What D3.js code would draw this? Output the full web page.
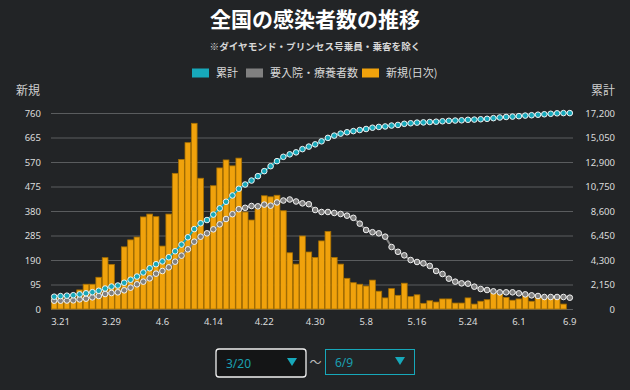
<!DOCTYPE html>
<html><head><meta charset="utf-8">
<script src="https://cdn.jsdelivr.net/npm/d3@7"></script>
<style>
html,body{margin:0;padding:0;background:#222426;}
svg{display:block;}
text{font-family:"Noto Sans","Noto Sans CJK JP",sans-serif;}
</style></head>
<body><svg id="c" width="630" height="390"></svg>
<script>
const dates = ["3.20","3.21","3.22","3.23","3.24","3.25","3.26","3.27","3.28","3.29","3.30","3.31",
"4.1","4.2","4.3","4.4","4.5","4.6","4.7","4.8","4.9","4.10","4.11","4.12","4.13","4.14","4.15","4.16","4.17","4.18","4.19","4.20","4.21","4.22","4.23","4.24","4.25","4.26","4.27","4.28","4.29","4.30",
"5.1","5.2","5.3","5.4","5.5","5.6","5.7","5.8","5.9","5.10","5.11","5.12","5.13","5.14","5.15","5.16","5.17","5.18","5.19","5.20","5.21","5.22","5.23","5.24","5.25","5.26","5.27","5.28","5.29","5.30","5.31",
"6.1","6.2","6.3","6.4","6.5","6.6","6.7","6.8","6.9"];
const newCases = [43,53,35,42,74,96,96,123,199,173,90,241,268,279,357,368,358,244,368,526,580,645,720,507,285,478,547,578,555,585,376,345,388,439,435,441,381,218,174,283,221,200,264,301,200,174,119,102,96,89,112,69,43,79,53,100,48,55,22,32,27,39,39,23,23,43,19,30,36,61,57,45,34,39,50,30,45,41,41,41,19,0];
const cumulative = [1080,1133,1168,1210,1284,1380,1476,1599,1798,1971,2061,2302,2570,2849,3206,3574,3932,4176,4544,5070,5650,6295,7015,7522,7807,8285,8832,9410,9965,10550,10926,11271,11659,12098,12533,12974,13355,13573,13747,14030,14251,14451,14715,15016,15216,15390,15509,15611,15707,15796,15908,15977,16020,16099,16152,16252,16300,16355,16377,16409,16436,16475,16514,16537,16560,16603,16622,16652,16688,16749,16806,16851,16885,16924,16974,17004,17049,17090,17131,17172,17191,17191];
const hospitalized = [731,731,745,760,849,907,1024,1141,1316,1404,1463,1638,1872,2165,2399,2691,3101,3335,3657,4154,4681,5237,5907,6347,6640,6991,7430,7898,8320,8760,8880,9040,9010,9160,9069,9350,9520,9610,9435,9273,9200,8688,8513,8513,8425,8337,8191,8000,7489,6933,6740,6640,6348,5440,5020,4710,4300,4125,4008,3780,3335,3072,2662,2399,2252,2223,1960,1755,1667,1550,1463,1463,1463,1375,1287,1199,1141,1053,1053,1053,1053,994];
const xTickLabels = ["3.21","3.29","4.6","4.14","4.22","4.30","5.8","5.16","5.24","6.1","6.9"];
const leftTicks = [0,95,190,285,380,475,570,665,760];
const rightTicks = [0,2150,4300,6450,8600,10750,12900,15050,17200];
const legendItems = ["累計","要入院・療養者数","新規(日次)"];
const title = "全国の感染者数の推移";
const subtitle = "※ダイヤモンド・プリンセス号乗員・乗客を除く";
const rangeStart = "3/20", rangeEnd = "6/9";

const C_CYAN = "#17a8ba", C_GREY = "#808080", C_ORANGE = "#f0a20c";
const svg = d3.select("#c");
const L = 51, R = 573, T = 113, B = 309;

const x = d3.scaleBand().domain(dates).range([L, R]).paddingInner(0.1).paddingOuter(0.05);
const yL = d3.scaleLinear().domain([0, 760]).range([B, T]);
const yR = d3.scaleLinear().domain([0, 17200]).range([B, T]);

// title
svg.append("text").attr("x", 315).attr("y", 27).attr("text-anchor", "middle")
  .attr("fill", "#fff").attr("font-size", 21).attr("font-weight", "bold")
  .style("font-family", '"Noto Sans CJK JP",sans-serif').text(title);
svg.append("text").attr("x", 315).attr("y", 50).attr("text-anchor", "middle")
  .attr("fill", "#d8d8d8").attr("font-size", 9.6).attr("font-weight", "bold")
  .style("font-family", '"Noto Sans CJK JP",sans-serif').text(subtitle);

// legend
const legColors = [C_CYAN, C_GREY, C_ORANGE];
const legX = [192, 246, 362];
legendItems.forEach((t, i) => {
  svg.append("rect").attr("x", legX[i]).attr("y", 68.5).attr("width", 17).attr("height", 9).attr("fill", legColors[i]);
  svg.append("text").attr("x", legX[i] + 24).attr("y", 77).attr("fill", "#d8d8d8")
    .attr("font-size", 11).style("font-family", '"Noto Sans CJK JP",sans-serif').text(t);
});

// axis titles
svg.append("text").attr("x", 16).attr("y", 95).attr("fill", "#cfcfcf").attr("font-size", 12)
  .style("font-family", '"Noto Sans CJK JP",sans-serif').text("新規");
svg.append("text").attr("x", 615).attr("y", 95).attr("text-anchor", "end").attr("fill", "#cfcfcf").attr("font-size", 12)
  .style("font-family", '"Noto Sans CJK JP",sans-serif').text("累計");

// grid + left axis
const gL = svg.append("g").attr("transform", `translate(${L},0)`)
  .call(d3.axisLeft(yL).tickValues(leftTicks).tickSize(-(R - L)).tickPadding(10));
gL.select(".domain").remove();
gL.selectAll(".tick line").attr("stroke", "#5a5c5e").attr("stroke-width", 1);
gL.selectAll(".tick text").attr("fill", "#dcdcdc").attr("font-size", 9.5);

// right axis
const gR = svg.append("g").attr("transform", `translate(${R},0)`)
  .call(d3.axisRight(yR).tickValues(rightTicks).tickSize(0).tickFormat(d3.format(",")));
gR.select(".domain").remove();
gR.selectAll(".tick text").attr("fill", "#dcdcdc").attr("font-size", 9.5)
  .attr("text-anchor", "end").attr("x", 42);

// x axis
const gX = svg.append("g").attr("transform", `translate(0,${B})`)
  .call(d3.axisBottom(x).tickValues(xTickLabels).tickSize(0).tickPadding(9));
gX.select(".domain").remove();
gX.selectAll(".tick text").attr("fill", "#dcdcdc").attr("font-size", 9.5);

// bars
svg.append("g").selectAll("rect").data(newCases).join("rect")
  .attr("x", (d, i) => x(dates[i])).attr("width", x.bandwidth())
  .attr("y", d => yL(d)).attr("height", d => B - yL(d))
  .attr("fill", C_ORANGE).attr("stroke", "#a87000").attr("stroke-width", 0.8);

// lines + dots
function series(vals, color) {
  const line = d3.line().x((d, i) => x(dates[i]) + x.bandwidth() / 2).y(d => yR(d));
  svg.append("path").datum(vals).attr("d", line).attr("fill", "none")
    .attr("stroke", color).attr("stroke-width", 2);
  svg.append("g").selectAll("circle").data(vals).join("circle")
    .attr("cx", (d, i) => x(dates[i]) + x.bandwidth() / 2).attr("cy", d => yR(d))
    .attr("r", 2.8).attr("fill", color).attr("stroke", "#f2f2f2").attr("stroke-width", 1);
}
series(hospitalized, C_GREY);
series(cumulative, C_CYAN);

// range selectors
svg.append("rect").attr("x", 216).attr("y", 349).attr("width", 90).attr("height", 28).attr("rx", 3)
  .attr("fill", "#141516").attr("stroke", "#f0f0f0").attr("stroke-width", 1.3);
svg.append("text").attr("x", 226).attr("y", 367.5).attr("fill", "#1a9fb0").attr("font-size", 12).text(rangeStart);
svg.append("path").attr("d", "M287,358 L297,358 L292,366 Z").attr("fill", C_CYAN);
svg.append("text").attr("x", 315.5).attr("y", 367).attr("text-anchor", "middle").attr("fill", "#bbb").attr("font-size", 12).text("〜");
svg.append("rect").attr("x", 325.5).attr("y", 349.5).attr("width", 89).attr("height", 25)
  .attr("fill", "#222426").attr("stroke", C_CYAN).attr("stroke-width", 1);
svg.append("text").attr("x", 335).attr("y", 366.5).attr("fill", "#1a9fb0").attr("font-size", 12).text(rangeEnd);
svg.append("path").attr("d", "M395,357 L405,357 L400,365 Z").attr("fill", C_CYAN);
</script></body></html>
